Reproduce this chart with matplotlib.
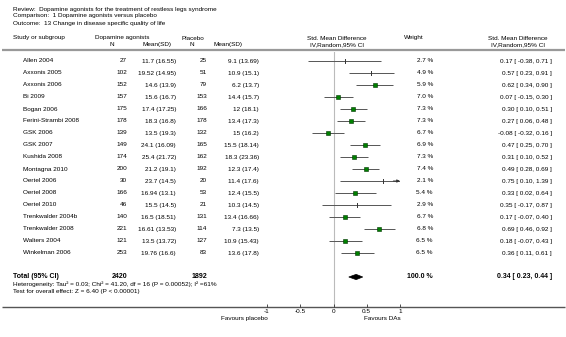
import matplotlib
matplotlib.use('Agg')
import matplotlib.pyplot as plt
import matplotlib.transforms as mtransforms

plt.rcParams['font.family'] = ['Liberation Sans', 'DejaVu Sans']

# ---- data ----
studies = ["Allen 2004", "Axxonis 2005", "Axxonis 2006", "Bi 2009", "Bogan 2006",
           "Ferini-Strambi 2008", "GSK 2006", "GSK 2007", "Kushida 2008", "Montagna 2010",
           "Oertel 2006", "Oertel 2008", "Oertel 2010", "Trenkwalder 2004b",
           "Trenkwalder 2008", "Walters 2004", "Winkelman 2006"]
da_n = [27, 102, 152, 157, 175, 178, 139, 149, 174, 200, 30, 166, 46, 140, 221, 121, 253]
da_msd = ["11.7 (16.55)", "19.52 (14.95)", "14.6 (13.9)", "15.6 (16.7)", "17.4 (17.25)",
          "18.3 (16.8)", "13.5 (19.3)", "24.1 (16.09)", "25.4 (21.72)", "21.2 (19.1)",
          "23.7 (14.5)", "16.94 (13.1)", "15.5 (14.5)", "16.5 (18.51)", "16.61 (13.53)",
          "13.5 (13.72)", "19.76 (16.6)"]
pl_n = [25, 51, 79, 153, 166, 178, 132, 165, 162, 192, 20, 53, 21, 131, 114, 127, 83]
pl_msd = ["9.1 (13.69)", "10.9 (15.1)", "6.2 (13.7)", "14.4 (15.7)", "12 (18.1)",
          "13.4 (17.3)", "15 (16.2)", "15.5 (18.14)", "18.3 (23.36)", "12.3 (17.4)",
          "11.4 (17.6)", "12.4 (15.5)", "10.3 (14.5)", "13.4 (16.66)", "7.3 (13.5)",
          "10.9 (15.43)", "13.6 (17.8)"]
weights = [2.7, 4.9, 5.9, 7.0, 7.3, 7.3, 6.7, 6.9, 7.3, 7.4, 2.1, 5.4, 2.9, 6.7, 6.8, 6.5, 6.5]
smd = [0.17, 0.57, 0.62, 0.07, 0.30, 0.27, -0.08, 0.47, 0.31, 0.49, 0.75, 0.33, 0.35,
       0.17, 0.69, 0.18, 0.36]
lo = [-0.38, 0.23, 0.34, -0.15, 0.10, 0.06, -0.32, 0.25, 0.10, 0.28, 0.10, 0.02, -0.17,
      -0.07, 0.46, -0.07, 0.11]
hi = [0.71, 0.91, 0.90, 0.30, 0.51, 0.48, 0.16, 0.70, 0.52, 0.69, 1.39, 0.64, 0.87,
      0.40, 0.92, 0.43, 0.61]
# studies drawn with a tick instead of a square
tick_only = ["Allen 2004", "Axxonis 2005", "Oertel 2006", "Oertel 2010"]

total_da, total_pl = 2420, 1892
total_smd, total_lo, total_hi = 0.34, 0.23, 0.44
xticks = [-1, -0.5, 0, 0.5, 1]
xticklabels = ["-1", "-0.5", "0", "0.5", "1"]

W, H = 566, 337
fs = 4.6

fig = plt.figure(figsize=(W / 100, H / 100), dpi=100)

# background axes in pixel units, for rules and title
bg = fig.add_axes([0, 0, 1, 1])
bg.set_xlim(0, W)
bg.set_ylim(H, 0)
bg.axis('off')

# forest axes: x = SMD, y = row index
fa = fig.add_axes([267 / W, (H - 307.3) / H, 133 / W, (307.3 - 52) / H])
fa.set_xlim(-1, 1)
fa.set_ylim(20.525, -0.75)
fa.patch.set_alpha(0)
for s in ['top', 'left', 'right']:
    fa.spines[s].set_visible(False)
fa.spines['bottom'].set_visible(False)
fa.set_yticks([])
fa.set_xticks(xticks)
fa.set_xticklabels(xticklabels)
fa.tick_params(axis='x', direction='in', length=2, width=0.6, labelsize=fs, pad=1.5,
               color='#333333')

# text transform: x in pixels, y in row index
tr = mtransforms.blended_transform_factory(bg.transData, fa.transData)

# title lines
bg.text(13, 9, "Review:  Dopamine agonists for the treatment of restless legs syndrome",
        fontsize=fs, va='center')
bg.text(13, 16, "Comparison:  1 Dopamine agonists versus placebo", fontsize=fs, va='center')
bg.text(13, 23.5, "Outcome:  13 Change in disease specific quality of life", fontsize=fs, va='center')

# headers
hy1, hy2 = 38, 44.5
bg.text(13, hy1, "Study or subgroup", fontsize=fs, va='center')
bg.text(122, hy1, "Dopamine agonists", fontsize=fs, va='center', ha='center')
bg.text(112, hy2, "N", fontsize=fs, va='center', ha='center')
bg.text(157, hy2, "Mean(SD)", fontsize=fs, va='center', ha='center')
bg.text(193, hy1, "Placebo", fontsize=fs, va='center', ha='center')
bg.text(192, hy2, "N", fontsize=fs, va='center', ha='center')
bg.text(228, hy2, "Mean(SD)", fontsize=fs, va='center', ha='center')
bg.text(337, hy1, "Std. Mean Difference", fontsize=fs, va='center', ha='center')
bg.text(337, hy2, "IV,Random,95% CI", fontsize=fs, va='center', ha='center')
bg.text(414, hy1, "Weight", fontsize=fs, va='center', ha='center')
bg.text(518, hy1, "Std. Mean Difference", fontsize=fs, va='center', ha='center')
bg.text(518, hy2, "IV,Random,95% CI", fontsize=fs, va='center', ha='center')

# rules
bg.plot([2, 565], [50, 50], color='#999999', lw=1.6, solid_capstyle='butt')
bg.plot([2, 565], [307.3, 307.3], color='#555555', lw=1.0, solid_capstyle='butt')

# zero line
fa.axvline(0, color='#bbbbbb', lw=0.8, zorder=0)

for i, name in enumerate(studies):
    bg.text(23, i, name, transform=tr, fontsize=fs, va='center')
    bg.text(127, i, str(da_n[i]), transform=tr, fontsize=fs, va='center', ha='right')
    bg.text(176, i, da_msd[i], transform=tr, fontsize=fs, va='center', ha='right')
    bg.text(207, i, str(pl_n[i]), transform=tr, fontsize=fs, va='center', ha='right')
    bg.text(259, i, pl_msd[i], transform=tr, fontsize=fs, va='center', ha='right')
    bg.text(433, i, f"{weights[i]:.1f} %", transform=tr, fontsize=fs, va='center', ha='right')
    bg.text(552, i, f"{smd[i]:.2f} [ {lo[i]:.2f}, {hi[i]:.2f} ]", transform=tr,
            fontsize=fs, va='center', ha='right')

    right = min(hi[i], 1)
    fa.plot([lo[i], right], [i, i], color='#555555', lw=0.7, solid_capstyle='butt', zorder=2)
    if hi[i] > 1:
        fa.annotate("", xy=(1, i), xytext=(0.9, i),
                    arrowprops=dict(arrowstyle='-|>', color='#333333', lw=0.7,
                                    mutation_scale=4, shrinkA=0, shrinkB=0))
    if name in tick_only:
        fa.plot([smd[i], smd[i]], [i - 0.18, i + 0.18], color='#333333', lw=0.7, zorder=3)
    else:
        fa.plot(smd[i], i, marker='s', ms=3.2, mfc='#008000', mec='#003300', mew=0.4,
                ls='none', zorder=3)

# total row
ty = 18
bg.text(13, ty, "Total (95% CI)", transform=tr, fontsize=5, fontweight='bold', va='center')
bg.text(127, ty, str(total_da), transform=tr, fontsize=5, fontweight='bold', va='center', ha='right')
bg.text(207, ty, str(total_pl), transform=tr, fontsize=5, fontweight='bold', va='center', ha='right')
bg.text(433, ty, "100.0 %", transform=tr, fontsize=5, fontweight='bold', va='center', ha='right')
bg.text(552, ty, f"{total_smd:.2f} [ {total_lo:.2f}, {total_hi:.2f} ]", transform=tr,
        fontsize=5, fontweight='bold', va='center', ha='right')
fa.fill([total_lo, total_smd, total_hi, total_smd], [ty, ty - 0.22, ty, ty + 0.22],
        color='black', lw=0.5, zorder=3)

bg.text(13, ty + 0.58, "Heterogeneity: Tau\u00b2 = 0.03; Chi\u00b2 = 41.20, df = 16 (P = 0.00052); I\u00b2 =61%",
        transform=tr, fontsize=fs, va='center')
bg.text(13, ty + 1.17, "Test for overall effect: Z = 6.40 (P < 0.00001)",
        transform=tr, fontsize=fs, va='center')

# favours labels
fa.text(-1.34, -0.035, "Favours placebo", transform=fa.get_xaxis_transform(),
        fontsize=fs, ha='center', va='top')
fa.text(0.74, -0.035, "Favours DAs", transform=fa.get_xaxis_transform(),
        fontsize=fs, ha='center', va='top')

fig.savefig("out.png", dpi=100)
